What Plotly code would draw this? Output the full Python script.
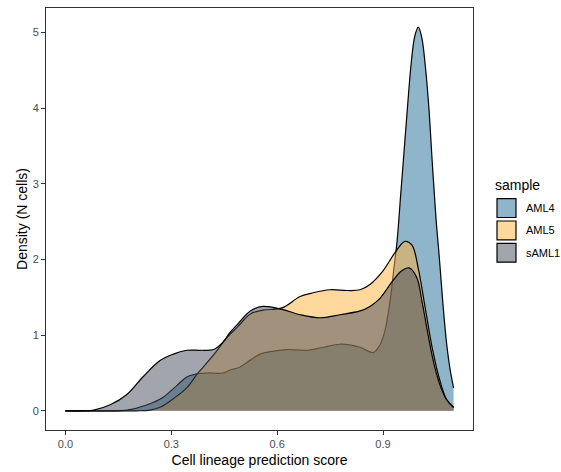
import plotly.graph_objects as go

# ---- data ----
samples = ["AML4", "AML5", "sAML1"]

aml4_x = [0.00, 0.10, 0.175, 0.232, 0.277, 0.317, 0.345, 0.374, 0.402, 0.447, 0.467, 0.495,
          0.524, 0.552, 0.59, 0.628, 0.685, 0.731, 0.778, 0.835, 0.872, 0.89, 0.905, 0.92,
          0.93, 0.94, 0.95, 0.96, 0.97, 0.98, 0.99, 1.00, 1.01, 1.02, 1.03, 1.04, 1.05,
          1.06, 1.07, 1.08, 1.09, 1.10]
aml4_y = [0.0, 0.0, 0.01, 0.08, 0.18, 0.34, 0.45, 0.49, 0.50, 0.50, 0.54, 0.58,
          0.67, 0.75, 0.79, 0.81, 0.80, 0.84, 0.88, 0.84, 0.77, 0.86, 1.05, 1.45,
          1.85, 2.25, 2.85, 3.45, 4.05, 4.6, 4.95, 5.07, 4.93, 4.55, 4.0, 3.25, 2.55,
          2.0, 1.4, 0.9, 0.55, 0.3]

aml5_x = [0.00, 0.10, 0.20, 0.24, 0.27, 0.306, 0.345, 0.374, 0.402, 0.43, 0.458, 0.49,
          0.524, 0.56, 0.614, 0.665, 0.702, 0.75, 0.798, 0.835, 0.863, 0.90, 0.934,
          0.962, 0.982, 1.00, 1.02, 1.04, 1.06, 1.08, 1.10]
aml5_y = [0.0, 0.0, 0.0, 0.01, 0.05, 0.16, 0.31, 0.49, 0.64, 0.80, 0.97, 1.12,
          1.28, 1.33, 1.36, 1.51, 1.56, 1.60, 1.59, 1.60, 1.67, 1.85, 2.09,
          2.24, 2.19, 1.88, 1.35, 0.82, 0.42, 0.15, 0.04]

saml1_x = [0.00, 0.05, 0.08, 0.127, 0.175, 0.22, 0.27, 0.306, 0.345, 0.382, 0.42, 0.447,
           0.467, 0.487, 0.524, 0.56, 0.614, 0.665, 0.722, 0.778, 0.835, 0.863, 0.89,
           0.928, 0.953, 0.974, 0.996, 1.01, 1.024, 1.042, 1.06, 1.08, 1.10]
saml1_y = [0.0, 0.0, 0.01, 0.08, 0.22, 0.45, 0.67, 0.75, 0.80, 0.80, 0.81, 0.91,
           1.04, 1.14, 1.32, 1.38, 1.34, 1.27, 1.23, 1.27, 1.32, 1.38, 1.48,
           1.72, 1.85, 1.89, 1.76, 1.46, 1.10, 0.67, 0.36, 0.15, 0.05]

x_ticks = [0.0, 0.3, 0.6, 0.9]
x_tick_labels = ["0.0", "0.3", "0.6", "0.9"]
y_ticks = [0, 1, 2, 3, 4, 5]

series_x = [aml4_x, aml5_x, saml1_x]
series_y = [aml4_y, aml5_y, saml1_y]
base_colors = [(31, 107, 151), (255, 177, 61), (69, 75, 87)]
alpha = 0.5

W, H = 561, 472
L, R, T, B = 46, 88, 7, 40
pw, ph = W - L - R, H - T - B

fig = go.Figure()
for name, xs, ys, c in zip(samples, series_x, series_y, base_colors):
    fig.add_trace(go.Scatter(
        x=xs, y=ys, name=name, mode="lines", fill="tozeroy",
        fillcolor=f"rgba({c[0]},{c[1]},{c[2]},{alpha})",
        line=dict(color="black", width=1.2, shape="spline", smoothing=1.0),
        showlegend=False, hoverinfo="skip"))

font_family = "Liberation Sans, Arial, sans-serif"
axis_common = dict(showgrid=False, zeroline=False, showline=True, mirror=True,
                   linecolor="#333333", linewidth=1, ticks="outside", ticklen=4,
                   tickcolor="#333333", tickwidth=1,
                   tickfont=dict(family=font_family, size=11, color="#4D4D4D"))

fig.update_layout(
    width=W, height=H,
    margin=dict(l=L, r=R, t=T, b=B),
    paper_bgcolor="white", plot_bgcolor="white",
    font=dict(family=font_family),
    xaxis=dict(range=[-0.055, 1.155], tickvals=x_ticks, ticktext=x_tick_labels,
               title=dict(text="Cell lineage prediction score",
                          font=dict(family=font_family, size=14, color="black"),
                          standoff=5),
               **axis_common),
    yaxis=dict(range=[-0.2535, 5.3235], tickvals=y_ticks,
               title=dict(text="Density (N cells)",
                          font=dict(family=font_family, size=14, color="black"),
                          standoff=1),
               **axis_common),
)

# manual legend (ggplot-style square keys)
def px_to_paper(px, py):
    return (px - L) / pw, (H - B - py) / ph

tx, ty = px_to_paper(493, 185)
fig.add_annotation(x=tx, y=ty, xref="paper", yref="paper", text="sample",
                   showarrow=False, xanchor="left", yanchor="middle",
                   font=dict(family=font_family, size=14, color="black"))
key_size = 19
for i, (name, c) in enumerate(zip(samples, base_colors)):
    top = 199 + i * 22.5
    x0, y1 = px_to_paper(497, top)
    x1, y0 = px_to_paper(497 + key_size, top + key_size)
    fig.add_shape(type="rect", xref="paper", yref="paper", x0=x0, x1=x1, y0=y0, y1=y1,
                  fillcolor=f"rgba({c[0]},{c[1]},{c[2]},{alpha})",
                  line=dict(color="black", width=1.2))
    lx, ly = px_to_paper(524, top + key_size / 2)
    fig.add_annotation(x=lx, y=ly, xref="paper", yref="paper", text=name,
                       showarrow=False, xanchor="left", yanchor="middle",
                       font=dict(family=font_family, size=11, color="black"))

fig.write_html("out.html")
